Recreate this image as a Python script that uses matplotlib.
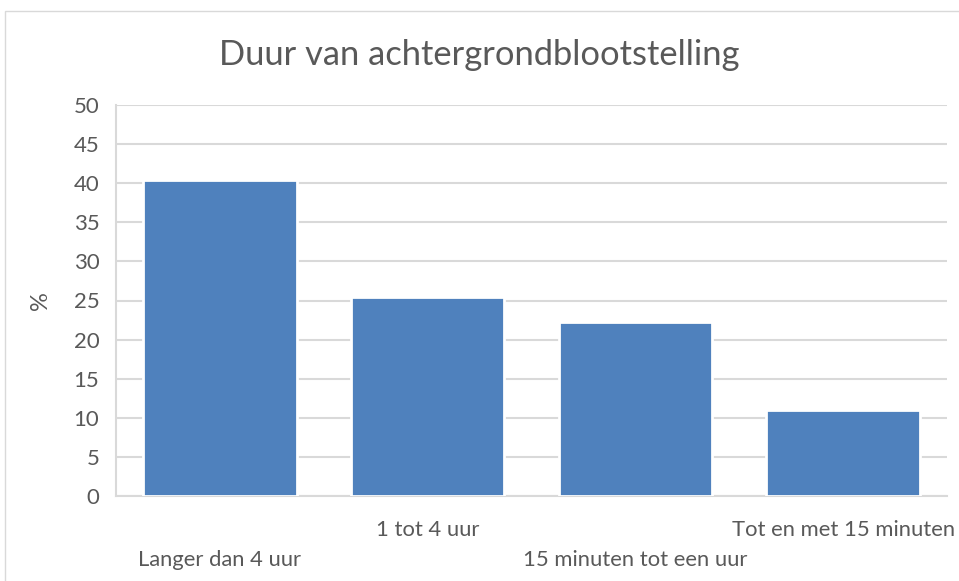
import matplotlib
matplotlib.use("Agg")
import matplotlib.pyplot as plt
from matplotlib.patches import Rectangle

# Duur van achtergrondblootstelling (percentages)
categories = ["Langer dan 4 uur", "1 tot 4 uur", "15 minuten tot een uur", "Tot en met 15 minuten"]
values = [40.4, 25.4, 22.3, 11.0]
yticks = [0, 5, 10, 15, 20, 25, 30, 35, 40, 45, 50]

plt.rcParams['font.family'] = ['Lato', 'DejaVu Sans']
grey = '#595959'

fig = plt.figure(figsize=(9.59, 5.81), dpi=100)
W, H = 959, 581
ax = fig.add_axes([116 / W, (H - 496) / H, (947 - 116) / W, (496 - 105) / H])

# lichtgrijze rand rond de grafiek
fig.patches.append(Rectangle((5 / W, -0.01), 1.0, (H - 11) / H + 0.01,
                             transform=fig.transFigure, fill=False,
                             edgecolor='#d9d9d9', linewidth=1.0))

x = range(len(categories))
ax.bar(x, values, width=0.74, color='#4F81BD', edgecolor='white', linewidth=2, zorder=3)

ax.set_xlim(-0.5, len(categories) - 0.5)
ax.set_ylim(0, 50)
ax.set_yticks(yticks)
ax.grid(axis='y', color='#d9d9d9', linewidth=1.5, zorder=0)
ax.set_axisbelow(True)

for s in ['top', 'right']:
    ax.spines[s].set_visible(False)
for s in ['left', 'bottom']:
    ax.spines[s].set_color('#d9d9d9')
    ax.spines[s].set_linewidth(1.5)

ax.tick_params(axis='y', length=0, labelsize=16, labelcolor=grey, pad=12)
ax.tick_params(axis='x', length=0, labelsize=15.8, labelcolor=grey)
ax.set_xticks(list(x))
ax.set_xticklabels(categories)
for i, t in enumerate(ax.xaxis.get_major_ticks()):
    t.set_pad(39 if i % 2 == 0 else 17)

ax.set_ylabel('%', fontsize=17, color=grey, labelpad=16)
fig.suptitle('Duur van achtergrondblootstelling', fontsize=24.8, color=grey, y=1 - 55 / H, va='center')

plt.savefig('out.png', dpi=100)
plt.close()
